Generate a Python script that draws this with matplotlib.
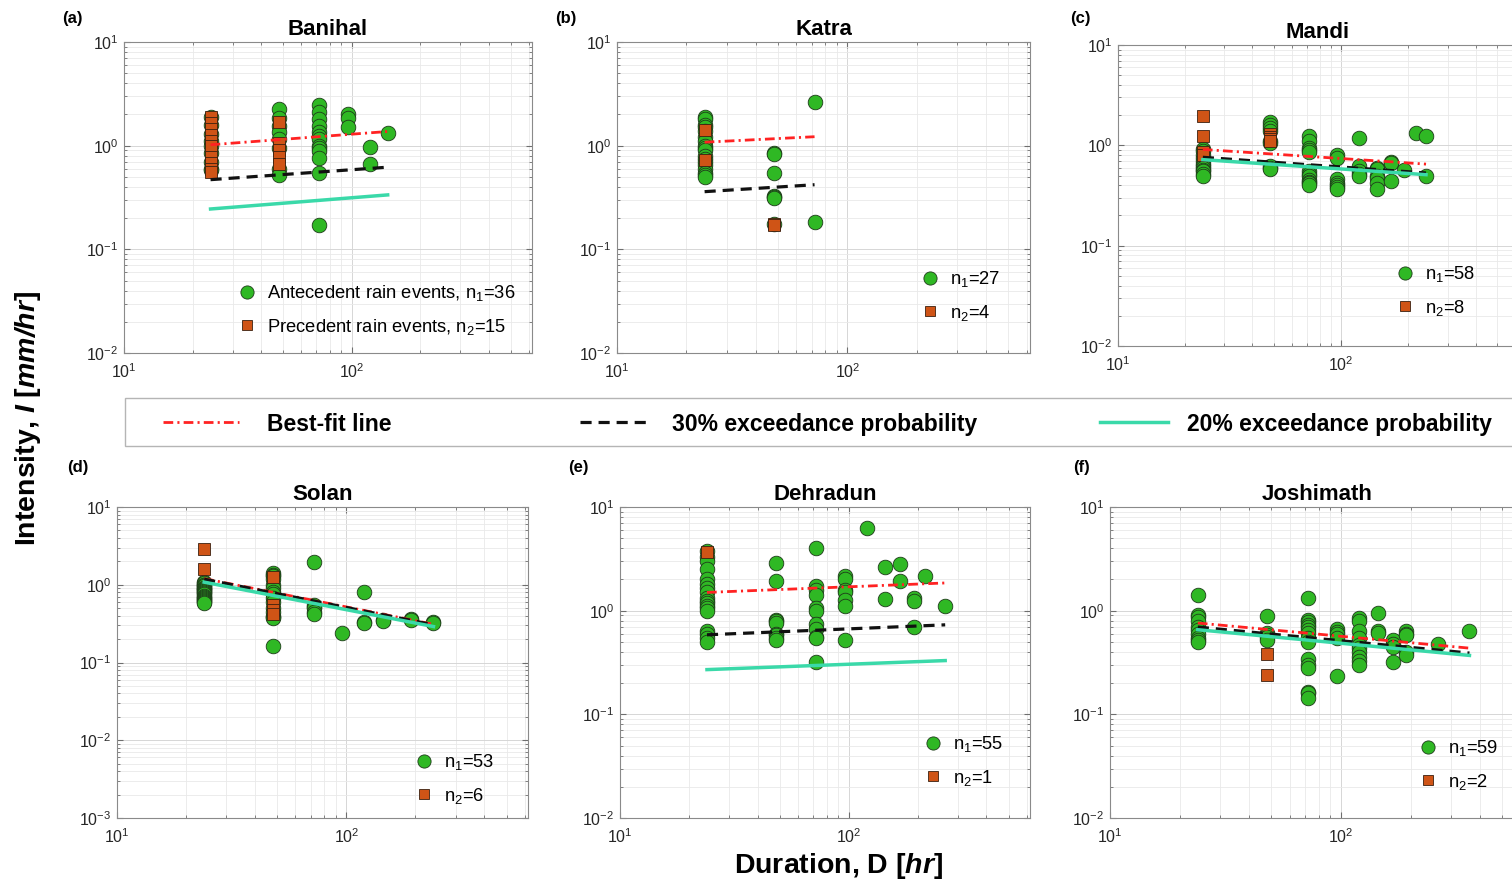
import matplotlib
matplotlib.use("Agg")
import matplotlib.pyplot as plt
from matplotlib.lines import Line2D
from matplotlib.patches import Rectangle
from matplotlib.ticker import NullFormatter

plt.rcParams['font.family'] = ['Liberation Sans', 'DejaVu Sans']
plt.rcParams['mathtext.fontset'] = 'custom'
plt.rcParams['mathtext.rm'] = 'Liberation Sans'
plt.rcParams['mathtext.it'] = 'Liberation Sans:italic'
plt.rcParams['mathtext.bf'] = 'Liberation Sans:bold'
plt.rcParams['mathtext.bfit'] = 'Liberation Sans:bold:italic'
plt.rcParams['lines.scale_dashes'] = False

W, H = 1512, 885

# ---- data: rainfall intensity (mm/hr) per event duration (hr) ----
stations = ["Banihal", "Katra", "Mandi", "Solan", "Dehradun", "Joshimath"]
panel_tags = ["(a)", "(b)", "(c)", "(d)", "(e)", "(f)"]

banihal_ante = {24: [1.9, 1.6, 1.3, 1.1, 1.0, 0.85, 0.7, 0.6, 0.58],
                48: [2.25, 1.85, 1.55, 1.35, 1.15, 0.95, 0.6, 0.52],
                72: [2.45, 2.1, 1.8, 1.55, 1.35, 1.25, 1.15, 1.0, 0.95, 0.88, 0.76, 0.55, 0.17],
                96: [2.0, 1.85, 1.5], 120: [0.98, 0.67], 144: [1.32]}
banihal_prec = {24: [1.9, 1.65, 1.45, 1.28, 1.12, 1.0, 0.78, 0.68, 0.6, 0.56],
                48: [1.68, 1.05, 0.9, 0.78, 0.67]}
banihal_fit_d = [24, 144]
banihal_best = [1.02, 1.37]
banihal_p30 = [0.47, 0.62]
banihal_p20 = [0.245, 0.335]

katra_ante = {24: [1.9, 1.8, 1.6, 1.5, 1.4, 1.2, 1.1, 1.0, 0.95, 0.9, 0.8, 0.75, 0.7, 0.65, 0.6, 0.55, 0.52, 0.5],
              48: [0.85, 0.84, 0.54, 0.33, 0.32, 0.31, 0.177],
              72: [2.66, 0.184]}
katra_prec = {24: [1.42, 0.73], 48: [0.174, 0.172]}
katra_fit_d = [24, 72]
katra_best = [1.08, 1.22]
katra_p30 = [0.36, 0.42]
katra_p20 = None

mandi_ante = {24: [0.92, 0.88, 0.8, 0.75, 0.7, 0.65, 0.62, 0.6, 0.57, 0.55, 0.52, 0.5],
              48: [1.7, 1.6, 1.5, 1.4, 1.1, 1.05, 0.62, 0.6, 0.58],
              72: [1.25, 1.1, 0.95, 0.9, 0.85, 0.55, 0.52, 0.5, 0.45, 0.43, 0.42, 0.4],
              96: [0.8, 0.75, 0.46, 0.42, 0.4, 0.38, 0.37],
              120: [1.17, 0.62, 0.55, 0.52, 0.5],
              144: [0.6, 0.58, 0.5, 0.47, 0.42, 0.37],
              168: [0.69, 0.66, 0.44], 192: [0.57], 216: [1.34], 240: [1.25, 0.5]}
mandi_prec = {24: [1.97, 1.24, 0.86, 0.8], 48: [1.3, 1.2, 1.15, 1.1]}
mandi_fit_d = [24, 240]
mandi_best = [0.91, 0.65]
mandi_p30 = [0.76, 0.53]
mandi_p20 = [0.72, 0.51]

solan_ante = {24: [1.1, 1.05, 1.0, 0.98, 0.95, 0.92, 0.9, 0.88, 0.85, 0.82, 0.8, 0.78, 0.75, 0.72,
                   0.7, 0.68, 0.65, 0.64, 0.62, 0.6, 0.58],
              48: [1.4, 1.35, 1.3, 1.2, 1.0, 0.9, 0.8, 0.75, 0.68, 0.6, 0.5, 0.45, 0.4, 0.38, 0.37, 0.165],
              72: [1.95, 0.55, 0.52, 0.5, 0.45, 0.42],
              96: [0.24], 120: [0.8, 0.33, 0.32], 144: [0.35, 0.34],
              192: [0.36, 0.35], 240: [0.33, 0.32]}
solan_prec = {24: [2.9, 1.6], 48: [1.25, 0.55, 0.47, 0.42]}
solan_fit_d = [24, 240]
solan_best = [1.2, 0.31]
solan_p30 = [1.18, 0.305]
solan_p20 = [1.08, 0.29]

dehradun_ante = {24: [3.75, 3.3, 3.0, 2.5, 2.0, 1.8, 1.65, 1.5, 1.32, 1.25, 1.18, 1.1, 1.05, 1.0,
                      0.63, 0.6, 0.55, 0.5],
                 48: [2.9, 1.92, 0.82, 0.8, 0.76, 0.6, 0.58, 0.55, 0.52],
                 72: [4.05, 1.72, 1.6, 1.43, 1.05, 1.0, 0.74, 0.67, 0.56, 0.54, 0.32],
                 96: [2.15, 2.0, 1.6, 1.5, 1.28, 1.1, 0.52],
                 120: [6.3], 144: [2.65, 1.3], 168: [2.85, 1.95],
                 192: [1.33, 1.25, 0.69], 216: [2.18], 264: [1.12]}
dehradun_prec = {24: [3.67]}
dehradun_fit_d = [24, 264]
dehradun_best = [1.5, 1.85]
dehradun_p30 = [0.585, 0.73]
dehradun_p20 = [0.27, 0.33]

joshimath_ante = {24: [1.43, 0.91, 0.86, 0.8, 0.7, 0.65, 0.6, 0.55, 0.52, 0.5],
                  48: [0.88, 0.61, 0.58, 0.56, 0.52],
                  72: [1.33, 0.82, 0.78, 0.73, 0.7, 0.65, 0.61, 0.55, 0.5, 0.34, 0.3, 0.28, 0.165, 0.16, 0.143],
                  96: [0.66, 0.62, 0.6, 0.55, 0.236],
                  120: [0.85, 0.8, 0.64, 0.55, 0.47, 0.44, 0.4, 0.36, 0.33, 0.3],
                  144: [0.96, 0.63, 0.61], 168: [0.52, 0.48, 0.45, 0.32],
                  192: [0.63, 0.6, 0.58, 0.4, 0.37], 264: [0.48], 360: [0.63]}
joshimath_prec = {48: [0.384, 0.24]}
joshimath_fit_d = [24, 360]
joshimath_best = [0.76, 0.435]
joshimath_p30 = [0.695, 0.39]
joshimath_p20 = [0.655, 0.37]

ante_sets = [banihal_ante, katra_ante, mandi_ante, solan_ante, dehradun_ante, joshimath_ante]
prec_sets = [banihal_prec, katra_prec, mandi_prec, solan_prec, dehradun_prec, joshimath_prec]
fit_d = [banihal_fit_d, katra_fit_d, mandi_fit_d, solan_fit_d, dehradun_fit_d, joshimath_fit_d]
best_fit = [banihal_best, katra_best, mandi_best, solan_best, dehradun_best, joshimath_best]
p30_fit = [banihal_p30, katra_p30, mandi_p30, solan_p30, dehradun_p30, joshimath_p30]
p20_fit = [banihal_p20, katra_p20, mandi_p20, solan_p20, dehradun_p20, joshimath_p20]
y_lower = [1e-2, 1e-2, 1e-2, 1e-3, 1e-2, 1e-2]

# ---- layout (pixel boxes: left, top, right, bottom) ----
boxes = [(124, 42, 532, 353), (617, 42, 1030, 353), (1118, 45, 1518, 346),
         (117, 507, 528, 818), (620, 507, 1030, 818), (1110, 507, 1524, 818)]
tag_pos = [(62, 18), (555, 18), (1070, 18), (67, 467), (568, 467), (1073, 467)]
leg_pos = [(238, 310), (921, 296), (1396, 291), (415, 779), (924, 761), (1419, 765)]

GREEN = '#2fb824'
BROWN = '#cf5416'
RED = '#ff2222'
CYAN = '#3ad9a9'


def flatten(groups):
    xs = [d for d, vals in groups.items() for _ in vals]
    ys = [v for vals in groups.values() for v in vals]
    return xs, ys


fig = plt.figure(figsize=(W / 100, H / 100), dpi=100)

for i, name in enumerate(stations):
    l, t, r, b = boxes[i]
    ax = fig.add_axes([l / W, 1 - b / H, (r - l) / W, (b - t) / H])
    ax.set_xscale('log')
    ax.set_yscale('log')
    ax.set_xlim(10, 620)
    ax.set_ylim(y_lower[i], 10)

    ax.set_axisbelow(True)
    ax.grid(which='major', color='#d6d6d6', lw=0.7)
    ax.grid(which='minor', color='#e9e9e9', lw=0.6)
    ax.xaxis.set_minor_formatter(NullFormatter())
    ax.yaxis.set_minor_formatter(NullFormatter())
    ax.tick_params(which='both', direction='in', top=True, right=True,
                   color='#6e6e6e', labelcolor='#262626', labelsize=11.5)
    ax.tick_params(which='major', length=4)
    ax.tick_params(which='minor', length=2)
    ax.tick_params(axis='x', pad=7)
    ax.tick_params(axis='y', pad=4)
    for sp in ax.spines.values():
        sp.set_color('#8a8a8a')
        sp.set_linewidth(0.8)

    ax_x, ax_y = flatten(ante_sets[i])
    pr_x, pr_y = flatten(prec_sets[i])
    ax.plot(ax_x, ax_y, 'o', ms=10.5, mfc=GREEN, mec='#1e3a1a', mew=0.6, zorder=3)
    ax.plot(pr_x, pr_y, 's', ms=9.3, mfc=BROWN, mec='#3a2010', mew=0.6, zorder=4)

    ax.plot(fit_d[i], best_fit[i], color=RED, lw=2, dashes=(7, 3, 1.5, 3), zorder=5)
    ax.plot(fit_d[i], p30_fit[i], color='#111111', lw=2.3, dashes=(8, 5), zorder=5)
    if p20_fit[i] is not None:
        ax.plot(fit_d[i], p20_fit[i], color=CYAN, lw=2.5, zorder=5)

    ax.set_title(name, fontsize=16, fontweight='bold', pad=5)

    n1, n2 = len(ax_y), len(pr_y)
    if i == 0:
        labels = [f'Antecedent rain events, n$_1$={n1}', f'Precedent rain events, n$_2$={n2}']
    else:
        labels = [f'n$_1$={n1}', f'n$_2$={n2}']
    handles = [Line2D([], [], ls='none', marker='o', ms=9.5, mfc=GREEN, mec='#1e3a1a', mew=0.6),
               Line2D([], [], ls='none', marker='s', ms=7, mfc=BROWN, mec='#3a2010', mew=0.6)]
    lx, ly = leg_pos[i]
    fig.legend(handles, labels, loc='center left', bbox_to_anchor=(lx / W, 1 - ly / H),
               frameon=False, fontsize=13.2, borderpad=0, borderaxespad=0,
               handlelength=1.0, handletextpad=0.6, labelspacing=0.75)

    tx, ty = tag_pos[i]
    fig.text(tx / W, 1 - ty / H, panel_tags[i], fontsize=12, fontweight='bold',
             ha='left', va='center')

# ---- shared legend for fit lines ----
fig.patches.append(Rectangle((125 / W, 1 - 446 / H), 1.0, 48 / H, transform=fig.transFigure,
                             facecolor='white', edgecolor='#b5b5b5', lw=1.0))
line_handles = [Line2D([], [], color=RED, lw=2, dashes=(7, 3, 1.5, 3)),
                Line2D([], [], color='#111111', lw=2.3, dashes=(8, 5)),
                Line2D([], [], color=CYAN, lw=2.5)]
line_labels = ['Best-fit line', '30% exceedance probability', '20% exceedance probability']
line_x = [163, 580, 1100]
line_len = [3.3, 3.15, 2.95]
line_pad = [1.25, 0.85, 0.85]
for h, lab, x0, hl, hp in zip(line_handles, line_labels, line_x, line_len, line_pad):
    fig.legend([h], [lab], loc='center left', bbox_to_anchor=(x0 / W, 1 - 424 / H),
               frameon=False, borderpad=0, borderaxespad=0,
               handlelength=hl, handletextpad=hp,
               prop={'weight': 'bold', 'size': 16.5})

fig.text(28 / W, 1 - 418 / H, r'Intensity, $\mathbfit{I}$ [$\mathbfit{mm/hr}$]',
         rotation=90, fontsize=20.5, fontweight='bold', ha='center', va='center')
fig.text(839 / W, 1 - 866 / H, r'Duration, D [$\mathbfit{hr}$]',
         fontsize=20.5, fontweight='bold', ha='center', va='center')

fig.savefig('out.png', dpi=100)
